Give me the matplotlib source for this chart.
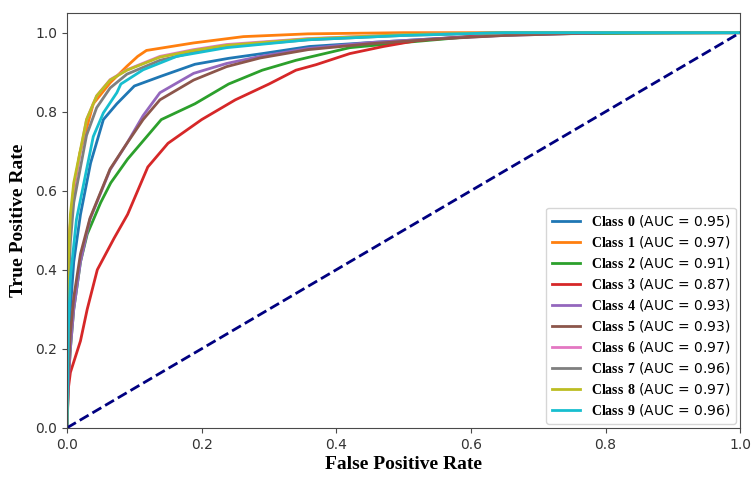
import matplotlib

matplotlib.use("Agg")
import matplotlib.pyplot as plt  # noqa: E402

plt.rcParams.update(
    {
        "font.size": 10,
        "mathtext.fontset": "custom",
        "mathtext.bf": "Liberation Serif:bold",
        "mathtext.rm": "Liberation Serif",
        "axes.edgecolor": "#4a4a4a",
        "xtick.color": "#4a4a4a",
        "ytick.color": "#4a4a4a",
        "xtick.labelcolor": "#333333",
        "ytick.labelcolor": "#333333",
    }
)

# ROC curves (fpr, tpr pairs per class)
class_names = ["Class 0", "Class 1", "Class 2", "Class 3", "Class 4",
               "Class 5", "Class 6", "Class 7", "Class 8", "Class 9"]
auc_values = [0.95, 0.97, 0.91, 0.87, 0.93, 0.93, 0.97, 0.96, 0.97, 0.96]

fpr_0 = [0, 0.002, 0.005, 0.01, 0.02, 0.035, 0.054, 0.074, 0.1, 0.14, 0.19, 0.24, 0.29, 0.36, 0.45, 0.55, 0.65, 0.8, 1]
tpr_0 = [0, 0.2, 0.3, 0.42, 0.54, 0.67, 0.78, 0.82, 0.865, 0.89, 0.92, 0.935, 0.947, 0.965, 0.975, 0.985, 0.995, 1.0, 1]

fpr_1 = [0, 0.002, 0.004, 0.01, 0.019, 0.039, 0.064, 0.089, 0.105, 0.118, 0.188, 0.262, 0.358, 0.5, 1]
tpr_1 = [0, 0.35, 0.5, 0.6, 0.695, 0.82, 0.873, 0.915, 0.94, 0.955, 0.974, 0.99, 0.997, 1.0, 1]

fpr_2 = [0, 0.002, 0.005, 0.01, 0.02, 0.03, 0.05, 0.065, 0.09, 0.14, 0.19, 0.24, 0.29, 0.34, 0.42, 0.5, 0.6, 0.7, 1]
tpr_2 = [0, 0.12, 0.2, 0.3, 0.42, 0.49, 0.57, 0.62, 0.68, 0.78, 0.82, 0.87, 0.905, 0.93, 0.962, 0.975, 0.99, 0.997, 1]

fpr_3 = [0, 0.002, 0.005, 0.02, 0.03, 0.045, 0.07, 0.09, 0.11, 0.12, 0.15, 0.2, 0.25, 0.3, 0.34, 0.37, 0.42, 0.47, 0.52, 0.57, 0.64, 0.75, 1]
tpr_3 = [0, 0.1, 0.14, 0.22, 0.3, 0.4, 0.48, 0.54, 0.62, 0.66, 0.72, 0.78, 0.83, 0.87, 0.905, 0.919, 0.947, 0.965, 0.98, 0.987, 0.995, 1.0, 1]

fpr_4 = [0, 0.002, 0.005, 0.01, 0.02, 0.034, 0.064, 0.089, 0.113, 0.138, 0.188, 0.237, 0.287, 0.358, 0.45, 0.55, 0.65, 0.8, 1]
tpr_4 = [0, 0.12, 0.2, 0.3, 0.42, 0.527, 0.653, 0.72, 0.79, 0.848, 0.897, 0.922, 0.94, 0.96, 0.975, 0.985, 0.993, 1.0, 1]

fpr_5 = [0, 0.002, 0.005, 0.01, 0.02, 0.034, 0.064, 0.089, 0.113, 0.138, 0.188, 0.237, 0.287, 0.358, 0.45, 0.55, 0.65, 0.8, 1]
tpr_5 = [0, 0.15, 0.24, 0.33, 0.44, 0.53, 0.655, 0.72, 0.78, 0.83, 0.88, 0.914, 0.936, 0.957, 0.972, 0.984, 0.993, 1.0, 1]

fpr_6 = [0, 0.002, 0.005, 0.01, 0.029, 0.044, 0.064, 0.089, 0.138, 0.188, 0.237, 0.358, 0.5, 0.65, 1]
tpr_6 = [0, 0.4, 0.52, 0.61, 0.78, 0.84, 0.881, 0.906, 0.94, 0.957, 0.97, 0.985, 0.995, 1.0, 1]

fpr_7 = [0, 0.002, 0.005, 0.01, 0.029, 0.044, 0.064, 0.089, 0.138, 0.188, 0.237, 0.358, 0.5, 0.65, 1]
tpr_7 = [0, 0.35, 0.47, 0.57, 0.74, 0.81, 0.86, 0.895, 0.93, 0.95, 0.965, 0.982, 0.993, 1.0, 1]

fpr_8 = [0, 0.002, 0.005, 0.01, 0.029, 0.044, 0.064, 0.089, 0.138, 0.188, 0.237, 0.358, 0.5, 0.65, 1]
tpr_8 = [0, 0.42, 0.54, 0.62, 0.78, 0.84, 0.88, 0.905, 0.938, 0.955, 0.968, 0.984, 0.995, 1.0, 1]

fpr_9 = [0, 0.002, 0.005, 0.014, 0.039, 0.054, 0.074, 0.08, 0.113, 0.163, 0.237, 0.358, 0.5, 0.65, 1]
tpr_9 = [0, 0.25, 0.38, 0.527, 0.737, 0.797, 0.848, 0.87, 0.906, 0.94, 0.962, 0.982, 0.993, 1.0, 1]

fprs = [fpr_0, fpr_1, fpr_2, fpr_3, fpr_4, fpr_5, fpr_6, fpr_7, fpr_8, fpr_9]
tprs = [tpr_0, tpr_1, tpr_2, tpr_3, tpr_4, tpr_5, tpr_6, tpr_7, tpr_8, tpr_9]
colors = ["#1f77b4", "#ff7f0e", "#2ca02c", "#d62728", "#9467bd",
          "#8c564b", "#e377c2", "#7f7f7f", "#bcbd22", "#17becf"]

fig = plt.figure(figsize=(7.53, 4.78), dpi=100)
ax = fig.add_axes([0.089, 0.105, 0.894, 0.868])

for name, auc, fx, ty, col in zip(class_names, auc_values, fprs, tprs, colors):
    label = r"$\mathbf{" + name.replace(" ", r"\ ") + "}$" + f" (AUC = {auc:.2f})"
    ax.plot(fx, ty, color=col, linewidth=2, label=label)

ax.plot([0, 1], [0, 1], color="navy", linewidth=2, linestyle="--")

ax.set_xlim(0, 1)
ax.set_ylim(0, 1.05)
ax.set_xticks([0, 0.2, 0.4, 0.6, 0.8, 1.0])
ax.set_yticks([0, 0.2, 0.4, 0.6, 0.8, 1.0])
ax.set_xlabel("False Positive Rate", family="Liberation Serif", fontweight="bold", fontsize=14, labelpad=3)
ax.set_ylabel("True Positive Rate", family="Liberation Serif", fontweight="bold", fontsize=14, labelpad=6)
ax.legend(loc="lower right", fontsize=10, labelspacing=0.36, borderaxespad=0.3)

fig.savefig("out.png", dpi=100)
